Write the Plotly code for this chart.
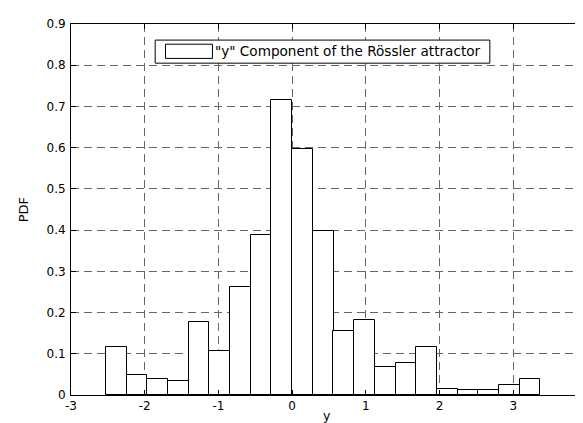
import plotly.graph_objects as go

# Histogram bins (centres) and estimated PDF values
bin_centers = [-2.385, -2.104, -1.824, -1.543, -1.263, -0.982, -0.702, -0.421,
               -0.140, 0.140, 0.421, 0.701, 0.982, 1.262, 1.543, 1.823,
               2.104, 2.384, 2.665, 2.945, 3.226]
pdf_values = [0.116, 0.049, 0.039, 0.034, 0.178, 0.106, 0.261, 0.388,
              0.716, 0.596, 0.397, 0.156, 0.183, 0.069, 0.078, 0.116,
              0.014, 0.013, 0.013, 0.024, 0.039]
bin_width = 0.2805

x_ticks = [-3, -2, -1, 0, 1, 2, 3, 4]
y_ticks = [0, 0.1, 0.2, 0.3, 0.4, 0.5, 0.6, 0.7, 0.8, 0.9]
legend_label = '"y" Component of the Rössler attractor'
x_title = "y"
y_title = "PDF"

FONT = "DejaVu Sans, Arial, sans-serif"

fig = go.Figure()
fig.add_trace(go.Bar(
    x=bin_centers, y=pdf_values, width=[bin_width] * len(bin_centers),
    marker=dict(color="white", line=dict(color="black", width=1)),
    showlegend=False,
))

# MATLAB-style legend drawn by hand
fig.add_shape(type="rect", xref="x", yref="y", x0=-1.858, x1=2.682, y0=0.805, y1=0.861,
              line=dict(color="black", width=1), fillcolor="white", layer="above")
fig.add_shape(type="rect", xref="x", yref="y", x0=-1.718, x1=-1.081, y0=0.8165, y1=0.851,
              line=dict(color="black", width=1), fillcolor="white", layer="above")
fig.add_annotation(x=-1.07, y=0.8335, xref="x", yref="y", text=legend_label,
                   showarrow=False, xanchor="left", yanchor="middle",
                   font=dict(family=FONT, size=13.6, color="black"))

# axis titles placed as in the reference
fig.add_annotation(x=0.496, y=-0.055, xref="paper", yref="paper", text=x_title,
                   showarrow=False, xanchor="center", yanchor="middle",
                   font=dict(family=FONT, size=12.5, color="black"))
fig.add_annotation(x=-0.0915, y=0.5, xref="paper", yref="paper", text=y_title,
                   showarrow=False, xanchor="center", yanchor="middle", textangle=-90,
                   font=dict(family=FONT, size=13, color="black"))

axis_common = dict(
    showline=True, linecolor="black", linewidth=1, mirror="ticks",
    ticks="inside", ticklen=5, tickcolor="black", tickwidth=1,
    showgrid=True, gridcolor="#666666", gridwidth=1, griddash="8px,5px",
    zeroline=False, tickfont=dict(family=FONT, size=12, color="black"),
)

fig.update_xaxes(range=[-3, 4], tickvals=x_ticks, ticktext=[str(v) for v in x_ticks],
                 **axis_common)
fig.update_yaxes(range=[0, 0.9], tickvals=y_ticks, ticktext=["0"] + [f"{v:.1f}" for v in y_ticks[1:]],
                 ticklabelstandoff=2, **axis_common)

fig.update_layout(
    width=583, height=423,
    margin=dict(l=63, r=4, t=16, b=36, autoexpand=False),
    plot_bgcolor="white", paper_bgcolor="white",
    bargap=0,
)

fig.write_html("out.html")
